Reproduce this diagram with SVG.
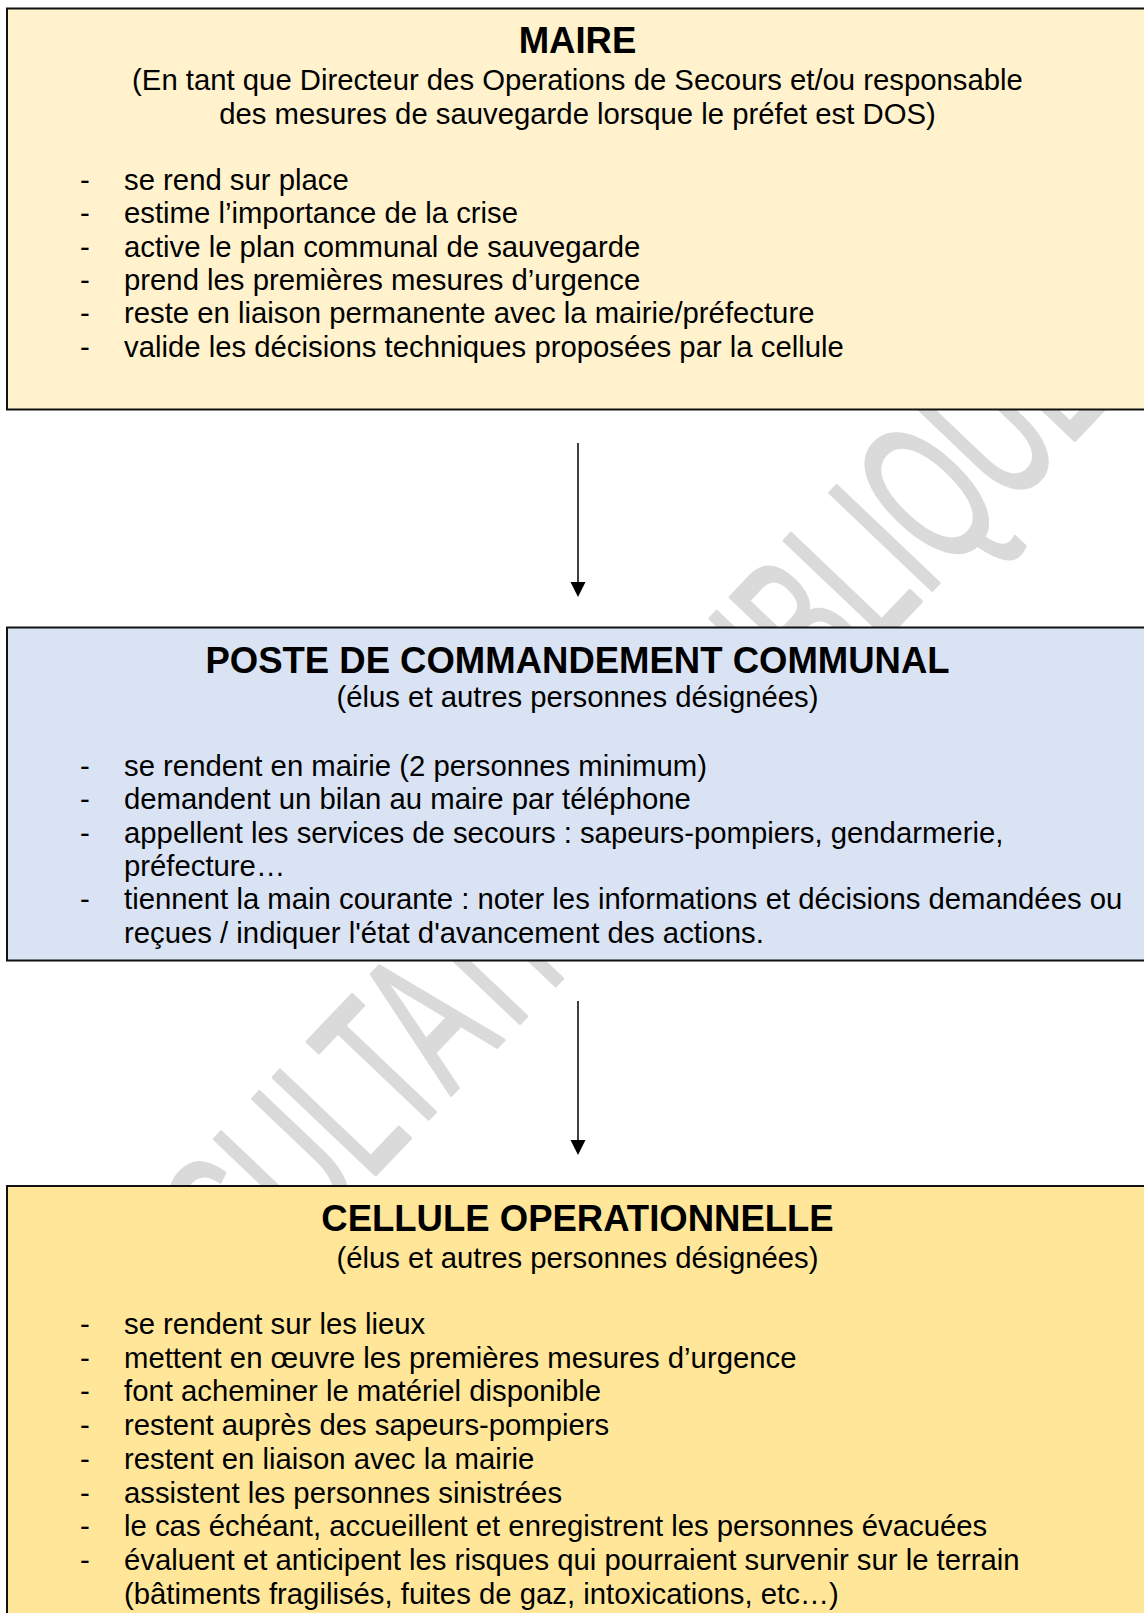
<svg xmlns="http://www.w3.org/2000/svg" width="1144" height="1613" viewBox="0 0 1144 1613">
<style>
.box{stroke:#111;stroke-width:2}
.title{font-family:"Liberation Sans",Arial,sans-serif;font-weight:bold;font-size:36.5px;fill:#000;text-anchor:middle}
.sub{font-family:"Liberation Sans",Arial,sans-serif;font-size:29.3px;fill:#000;text-anchor:middle}
.txt{font-family:"Liberation Sans",Arial,sans-serif;font-size:29.3px;fill:#000}
.wm{font-family:"Liberation Sans",Arial,sans-serif;font-size:117px;fill:#dadada;stroke:#dadada;stroke-width:2;stroke-linejoin:round}
.conn{stroke:#000;stroke-width:1.5;fill:none}
.head{fill:#000}
</style>
<defs>
<clipPath id="pageclip"><rect x="8" y="0" width="1136" height="1613"/></clipPath>
</defs>
<rect width="1144" height="1613" fill="#fff"/>
<g clip-path="url(#pageclip)">
<text class="wm" transform="translate(77,1488) rotate(-46.4) scale(1,1.75)">CONSULTATION PUBLIQUE</text>
</g>

<g id="maire">
<rect class="box" x="7" y="8.5" width="1145" height="401" fill="#FFF2CC"/>
<text class="title" x="577.5" y="53">MAIRE</text>
<text class="sub" x="577.5" y="90">(En tant que Directeur des Operations de Secours et/ou responsable</text>
<text class="sub" x="577.5" y="123.5">des mesures de sauvegarde lorsque le préfet est DOS)</text>
<g class="txt">
<text x="80" y="190">-</text><text x="124" y="190">se rend sur place</text>
<text x="80" y="223.3">-</text><text x="124" y="223.3">estime l’importance de la crise</text>
<text x="80" y="256.7">-</text><text x="124" y="256.7">active le plan communal de sauvegarde</text>
<text x="80" y="290">-</text><text x="124" y="290">prend les premières mesures d’urgence</text>
<text x="80" y="323.3">-</text><text x="124" y="323.3">reste en liaison permanente avec la mairie/préfecture</text>
<text x="80" y="356.7">-</text><text x="124" y="356.7">valide les décisions techniques proposées par la cellule</text>
</g>
</g>

<g id="poste">
<rect class="box" x="7" y="627.5" width="1145" height="333" fill="#DAE3F3"/>
<text class="title" x="577.5" y="672.5">POSTE DE COMMANDEMENT COMMUNAL</text>
<text class="sub" x="577.5" y="707">(élus et autres personnes désignées)</text>
<g class="txt">
<text x="80" y="776">-</text><text x="124" y="776">se rendent en mairie (2 personnes minimum)</text>
<text x="80" y="809.3">-</text><text x="124" y="809.3">demandent un bilan au maire par téléphone</text>
<text x="80" y="842.7">-</text><text x="124" y="842.7">appellent les services de secours : sapeurs-pompiers, gendarmerie,</text>
<text x="124" y="876">préfecture…</text>
<text x="80" y="909.3">-</text><text x="124" y="909.3">tiennent la main courante : noter les informations et décisions demandées ou</text>
<text x="124" y="942.7">reçues / indiquer l'état d'avancement des actions.</text>
</g>
</g>

<g id="cellule">
<rect class="box" x="7" y="1186" width="1145" height="440" fill="#FFE699"/>
<text class="title" x="577.5" y="1231">CELLULE OPERATIONNELLE</text>
<text class="sub" x="577.5" y="1268">(élus et autres personnes désignées)</text>
<g class="txt">
<text x="80" y="1334">-</text><text x="124" y="1334">se rendent sur les lieux</text>
<text x="80" y="1367.7">-</text><text x="124" y="1367.7">mettent en œuvre les premières mesures d’urgence</text>
<text x="80" y="1401.4">-</text><text x="124" y="1401.4">font acheminer le matériel disponible</text>
<text x="80" y="1435.1">-</text><text x="124" y="1435.1">restent auprès des sapeurs-pompiers</text>
<text x="80" y="1468.8">-</text><text x="124" y="1468.8">restent en liaison avec la mairie</text>
<text x="80" y="1502.5">-</text><text x="124" y="1502.5">assistent les personnes sinistrées</text>
<text x="80" y="1536.2">-</text><text x="124" y="1536.2">le cas échéant, accueillent et enregistrent les personnes évacuées</text>
<text x="80" y="1569.9">-</text><text x="124" y="1569.9">évaluent et anticipent les risques qui pourraient survenir sur le terrain</text>
<text x="124" y="1603.6">(bâtiments fragilisés, fuites de gaz, intoxications, etc…)</text>
</g>
</g>

<g id="connectors">
<line class="conn" x1="578" y1="443" x2="578" y2="584"/>
<polygon class="head" points="570.5,582 585.5,582 578,597"/>
<line class="conn" x1="578" y1="1001" x2="578" y2="1142"/>
<polygon class="head" points="570.5,1140 585.5,1140 578,1155"/>
</g>
</svg>
